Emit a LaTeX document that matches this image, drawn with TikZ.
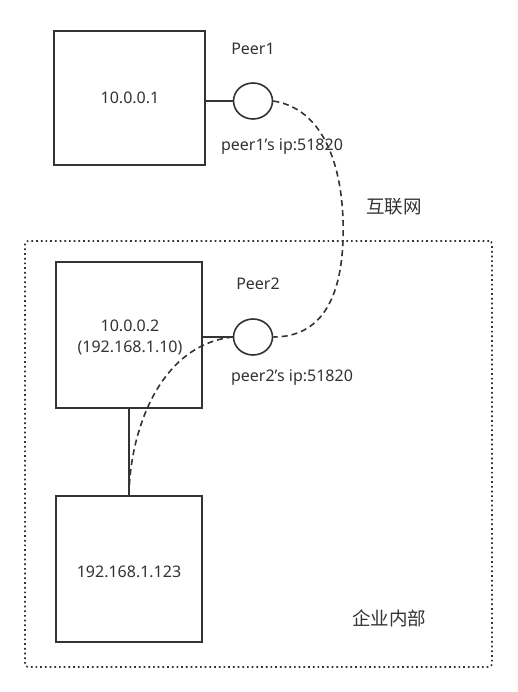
\documentclass[tikz,border=0pt]{standalone}
\usepackage{fontspec}
\setmainfont{Noto Sans}[Ligatures=ResetAll]
\newfontfamily\cjk{Noto Sans CJK SC}
\definecolor{ink}{HTML}{333333}
\usetikzlibrary{shapes.geometric}
\tikzset{
  box/.style={draw=ink, line width=1.8pt, minimum width=#1, inner sep=0pt},
  port/.style={draw=ink, line width=1.6pt, ellipse, minimum width=39pt, minimum height=36pt, inner sep=0pt},
  wire/.style={draw=ink, line width=1.6pt},
  tunnel/.style={draw=ink, line width=1.6pt, dash pattern=on 6pt off 4pt},
  lbl/.style={text=ink, font=\fontsize{16}{19}\selectfont, inner sep=0pt, align=center},
  zh/.style={text=ink, font=\cjk\fontsize{18.5}{20}\selectfont, inner sep=0pt}
}
\begin{document}
\begin{tikzpicture}[x=1pt,y=-1pt]
\useasboundingbox (0,0) rectangle (517,692);
% enterprise region
\node[draw=ink, line width=1.6pt, dash pattern=on 1.7pt off 3pt, rounded corners=3pt,
      minimum width=467pt, minimum height=426pt, inner sep=0pt] (ent) at (258.5,454) {};
% boxes
\node[box=151pt, minimum height=134pt] (b1) at (129.5,98) {};
\node[box=146pt, minimum height=146pt] (b2) at (129,335) {};
\node[box=146pt, minimum height=146pt] (b3) at (129,569) {};
% ports
\node[port] (c1) at (253,101) {};
\node[port] (c2) at (253,337) {};
% texts
\node[lbl] (t1) at (130,98) {10.0.0.1};
\node[lbl] (t2a) at (130,326) {10.0.0.2};
\node[lbl] (t2b) at (130,348) {(192.168.1.10)};
\node[lbl] (t3) at (129,572) {192.168.1.123};
\node[lbl] (p1) at (253,49) {Peer1};
\node[lbl] (p2) at (258,284) {Peer2};
\node[lbl] (ip1) at (282,147) {peer1\symbol{"27}s ip:51820};
\node[lbl] (ip2) at (292,378) {peer2\symbol{"27}s ip:51820};
\node[zh] (inet) at (394,207) {互联网};
\node[zh] (intra) at (389,618) {企业内部};
% wires
\draw[wire] (b1.east |- c1) -- (c1.west);
\draw[wire] (b2.east |- c2) -- (c2.west);
\draw[wire] (b2.south) -- (b3.north);
% tunnels
\coordinate (mid) at (343,240);
\draw[tunnel] (c1.east) .. controls (330,110) and (345,180) .. (mid)
  .. controls (341,300) and (320,337) .. (c2.east);
\draw[tunnel] (c2.west) .. controls (160,345) and (130,430) .. (b3.north);
\end{tikzpicture}
\end{document}
